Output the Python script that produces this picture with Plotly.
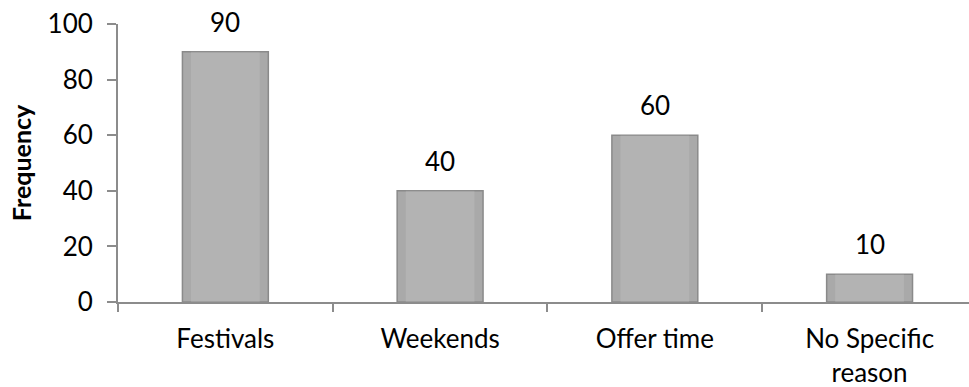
import plotly.graph_objects as go

categories = ["Festivals", "Weekends", "Offer time", "No Specific<br>reason"]
values = [90, 40, 60, 10]
y_ticks = [0, 20, 40, 60, 80, 100]

FONT = "Lato"
fig = go.Figure()
fig.add_trace(go.Bar(
    x=categories, y=values,
    marker=dict(color="#a9a9a9", line=dict(color="#8a8a8a", width=1.5)),
    width=0.4,
))
fig.add_trace(go.Bar(
    x=categories, y=values,
    marker=dict(color="rgba(255,255,255,0.12)", line=dict(width=0)),
    width=0.32,
))
for c, v in zip(categories, values):
    fig.add_annotation(x=c, y=v, text=str(v), showarrow=False, yanchor="bottom",
                       yshift=12, font=dict(family=FONT, size=26, color="black"))

fig.update_layout(
    width=969, height=387,
    margin=dict(l=118, r=0, t=24, b=85),
    plot_bgcolor="white", paper_bgcolor="white",
    showlegend=False, barmode="overlay",
    font=dict(family=FONT, size=26, color="black"),
)
fig.update_xaxes(
    range=[-0.5, 3.463], showgrid=False, showline=True, linecolor="#8c8c8c", linewidth=2,
    ticks="outside", tickson="boundaries", ticklen=8, tickcolor="#8c8c8c", tickwidth=2,
    tickfont=dict(family=FONT, size=26, color="black"), ticklabelstandoff=13,
)
fig.update_yaxes(
    range=[0, 100], tickvals=y_ticks, showgrid=False, zeroline=False,
    showline=True, linecolor="#8c8c8c", linewidth=2,
    ticks="outside", ticklen=9, tickcolor="#8c8c8c", tickwidth=2,
    tickfont=dict(family=FONT, size=26, color="black"), ticklabelstandoff=9,
    title=dict(text="<b>Frequency</b>", font=dict(family=FONT, size=25, color="black"), standoff=9),
)
fig.write_html("out.html")
